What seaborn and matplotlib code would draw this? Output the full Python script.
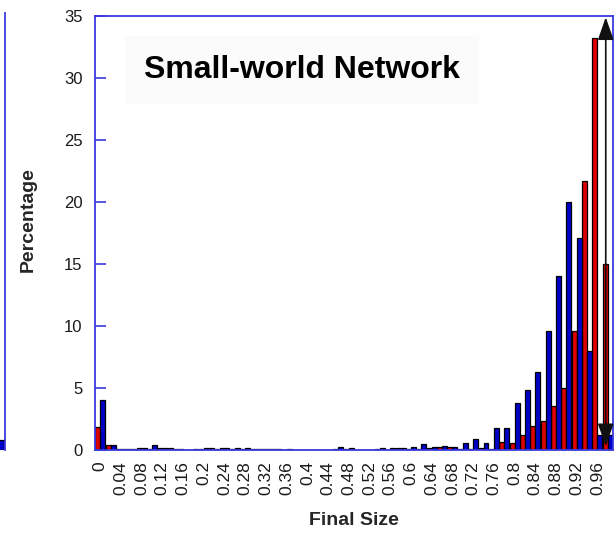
import numpy as np
import pandas as pd
import matplotlib
matplotlib.use("Agg")
import matplotlib.pyplot as plt
import seaborn as sns

# Final-size distribution, bins of width 0.02
final_size = [f"{i * 0.02:.2f}" for i in range(50)]
tick_labels = ["0", "0.04", "0.08", "0.12", "0.16", "0.2", "0.24", "0.28",
               "0.32", "0.36", "0.4", "0.44", "0.48", "0.52", "0.56", "0.6",
               "0.64", "0.68", "0.72", "0.76", "0.8", "0.84", "0.88", "0.92",
               "0.96"]

pct_red = [1.83, 0.40, 0.10, 0.10, 0.15, 0.10, 0.20, 0.20, 0.10, 0.00,
           0.10, 0.15, 0.20, 0.10, 0.10, 0.10, 0.10, 0.10, 0.00, 0.00,
           0.00, 0.00, 0.00, 0.10, 0.10, 0.00, 0.00, 0.10, 0.00, 0.13,
           0.10, 0.10, 0.13, 0.27, 0.27, 0.10, 0.10, 0.13, 0.10, 0.62,
           0.54, 1.21, 1.94, 2.34, 3.58, 5.04, 9.62, 21.7, 33.2, 15.0]
pct_blue = [4.00, 0.40, 0.10, 0.10, 0.15, 0.40, 0.20, 0.10, 0.00, 0.10,
            0.15, 0.10, 0.20, 0.15, 0.20, 0.10, 0.10, 0.10, 0.10, 0.00,
            0.00, 0.00, 0.00, 0.25, 0.20, 0.00, 0.00, 0.15, 0.15, 0.13,
            0.27, 0.50, 0.27, 0.35, 0.27, 0.60, 0.90, 0.60, 1.80, 1.80,
            3.77, 4.85, 6.28, 9.57, 14.0, 20.0, 17.1, 8.00, 1.20, 1.20]
series = ["Series 1", "Series 2"]

df = pd.DataFrame({
    "size": final_size * 2,
    "pct": pct_red + pct_blue,
    "series": [series[0]] * 50 + [series[1]] * 50,
})

sns.set_theme(style="white")
plt.rcParams["font.family"] = ["Liberation Sans", "DejaVu Sans"]

AXIS_BLUE = "#3a3ade"
W, H = 614, 533
fig = plt.figure(figsize=(W / 100, H / 100), dpi=100)
fig.patch.set_facecolor("white")

# main panel
ax = fig.add_axes([95 / W, 1 - 450 / H, 518 / W, 434 / H])
sns.barplot(data=df, x="size", y="pct", hue="series", order=final_size,
            hue_order=series, palette=["#e00000", "#0000c8"], saturation=1,
            width=0.96, edgecolor="black", linewidth=0.9, legend=False, ax=ax)

ax.set_xlim(-0.5, 49.5)
ax.set_ylim(0, 35)
ax.set_yticks(np.arange(0, 36, 5))
ax.set_yticklabels([str(v) for v in range(0, 36, 5)])
ax.set_xticks(np.arange(0, 50, 2))
ax.set_xticklabels(tick_labels, rotation=90)
ax.set_xticks(np.arange(-0.5, 50, 2), minor=True)
ax.tick_params(axis="x", which="major", length=0, pad=8, labelsize=12.5,
               labelcolor="#1a1a1a")
ax.tick_params(axis="x", which="minor", length=6.5, width=1.2,
               color=AXIS_BLUE, direction="out")
ax.tick_params(axis="y", length=8, width=1.2, color=AXIS_BLUE, direction="in",
               pad=9, labelsize=12, labelcolor="#1a1a1a", left=True)
for s in ax.spines.values():
    s.set_color(AXIS_BLUE)
    s.set_linewidth(1.3)
    s.set_visible(True)

ax.set_xlabel("Final Size", fontsize=14, fontweight="bold")
ax.set_ylabel("Percentage", fontsize=14, fontweight="bold")
ax.xaxis.set_label_coords(0.5, -0.143)
ax.yaxis.set_label_coords(-0.113, 0.53)
ax.xaxis.label.set_va("top")

# double-headed arrow over the last bin
ax.annotate("", xy=(48.8, 34.9), xytext=(48.8, 0.3),
            arrowprops=dict(arrowstyle="<|-|>,head_length=1.0,head_width=0.35",
                            color="#111111", lw=1.2,
                            mutation_scale=14, shrinkA=0, shrinkB=0))

ax.text(0.40, 0.876, "Small-world Network", transform=ax.transAxes,
        ha="center", va="center", fontsize=23, fontweight="bold",
        color="black",
        bbox=dict(boxstyle="square,pad=0.6", facecolor="#fbfbfb",
                  edgecolor="none"))

# edge of the neighbouring panel
ax0 = fig.add_axes([-0.05, 1 - 450 / H, 0.05 + 5 / W, 437 / H])
ax0.bar([0], [0.8], width=0.6, color="#0000c8", edgecolor="black", lw=0.9)
ax0.set_xlim(-0.9, 0.35)
ax0.set_ylim(0, 35)
ax0.set_xticks([])
ax0.set_yticks([])
for k, s in ax0.spines.items():
    s.set_visible(k == "right")
    s.set_color(AXIS_BLUE)
    s.set_linewidth(1.3)

fig.savefig("out.png", dpi=100, facecolor="white")
